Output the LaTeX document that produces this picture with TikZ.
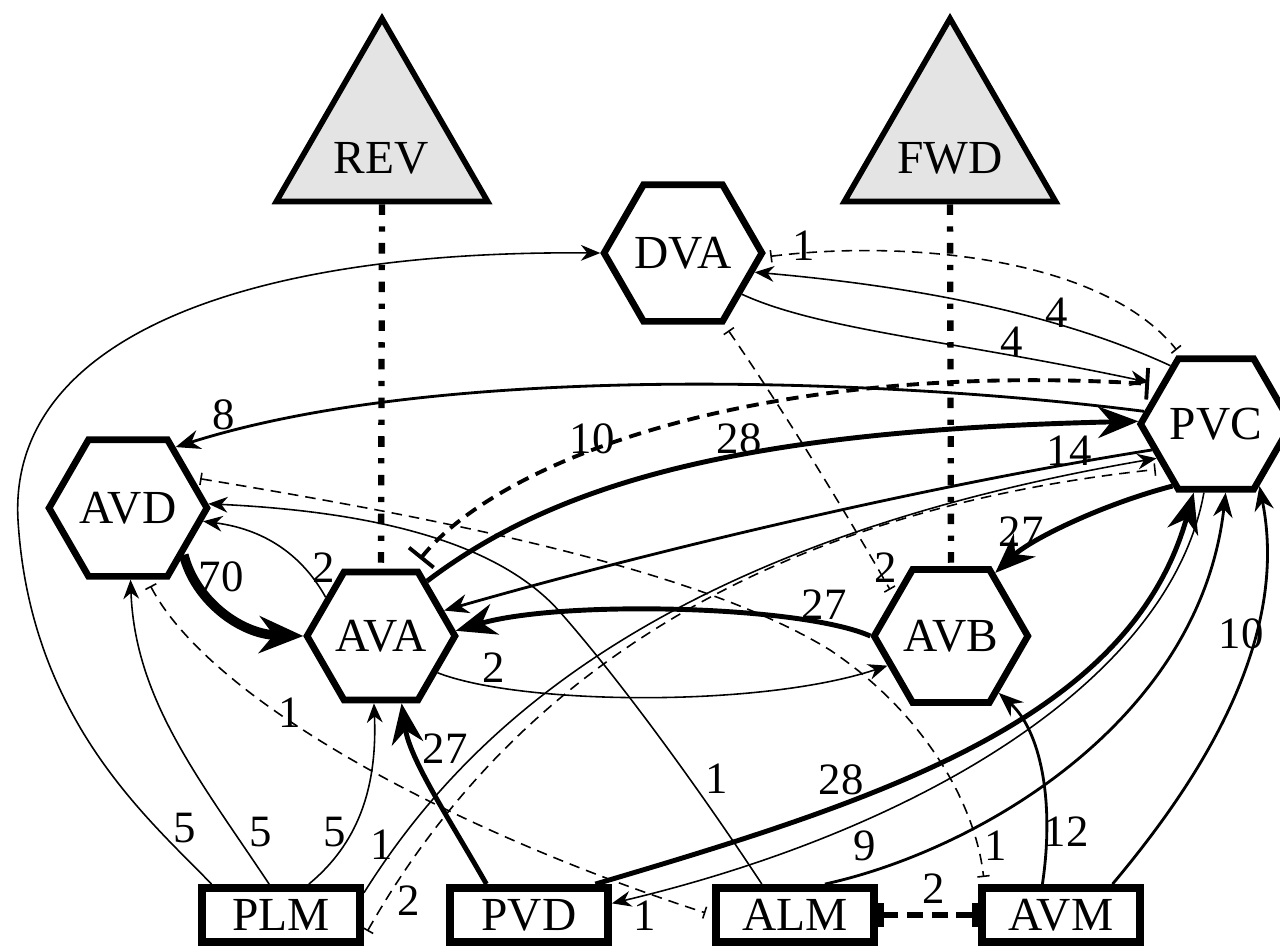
\documentclass[tikz,border=0pt]{standalone}
\usepackage{fontspec}
\setmainfont{Liberation Serif}
\usetikzlibrary{shapes.geometric,arrows.meta}
\definecolor{trigray}{RGB}{228,228,228}
\tikzset{
  hexnode/.style={regular polygon, regular polygon sides=6, minimum size=2.74cm, inner sep=0pt, draw, line width=3.8pt, font=\fontsize{27}{30}\selectfont},
  boxnode/.style={rectangle, draw, line width=4.5pt, minimum width=3.16cm, minimum height=1.08cm, inner sep=0pt, font=\fontsize{27}{30}\selectfont},
  trinode/.style={regular polygon, regular polygon sides=3, minimum size=4.88cm, inner sep=0pt, draw, line width=3.2pt, fill=trigray},
  tritext/.style={font=\fontsize{27}{30}\selectfont, inner sep=0pt},
  lab/.style={font=\fontsize{25.5}{28}\selectfont, inner sep=0pt},
  synA/.style={line width=0.9pt, -{Stealth[length=11pt,width=9pt]}},
  synB/.style={line width=1.6pt, -{Stealth[length=14pt,width=11pt]}},
  synC/.style={line width=2.8pt, -{Stealth[length=23pt,width=18pt]}},
  synD/.style={line width=5.5pt, -{Stealth[length=25pt,width=21pt]}},
  gapA/.style={line width=0.9pt, dash pattern=on 6pt off 4pt, {Bar[width=7pt]}-{Bar[width=7pt]}, shorten <=4pt, shorten >=4pt},
  gapC/.style={line width=2.2pt, dash pattern=on 7pt off 4.5pt, {Bar[width=18pt]}-{Bar[width=18pt]}, shorten <=7pt, shorten >=6pt},
  gapD/.style={line width=3.4pt, dash pattern=on 9pt off 5pt, {Bar[width=14pt,line width=3.5pt]}-{Bar[width=14pt,line width=3.5pt]}},
  cmdline/.style={line width=3.6pt, dash pattern=on 6pt off 6.5pt on 3pt off 6.5pt},
}
\begin{document}
\begin{tikzpicture}[x=0.02cm,y=-0.02cm]
\useasboundingbox (0,0) rectangle (1280,948);

% behaviour outputs
\node[trinode] (REV) at (382,140.5) {};
\node[tritext] (REVt) at (381,158) {REV};
\node[trinode] (FWD) at (950,140.5) {};
\node[tritext] (FWDt) at (950,158) {FWD};

% interneurons
\node[hexnode] (DVA) at (683,253) {DVA};
\node[hexnode] (PVC) at (1216,424) {PVC};
\node[hexnode] (AVD) at (128,508) {AVD};
\node[hexnode] (AVA) at (381,636) {AVA};
\node[hexnode] (AVB) at (951,636) {AVB};

% sensory neurons
\node[boxnode] (PLM) at (281,915) {PLM};
\node[boxnode] (PVD) at (529,915) {PVD};
\node[boxnode] (ALM) at (795,915) {ALM};
\node[boxnode] (AVM) at (1061,915) {AVM};

% command lines
\draw[cmdline] (REV.south) -- (AVA.north);
\draw[cmdline] (FWD.south) -- (AVB.north);

% chemical synapses
\draw[synA] (PLM.156) .. controls (150,820) and (30,720) .. (18,520) .. controls (8,340) and (240,250) .. (DVA.west);
\draw[synA] (PLM.111) .. controls (200,780) and (135,700) .. (AVD.-88);
\draw[synA] (PLM.48) .. controls (350,850) and (378,800) .. (AVA.-96);
\draw[synA] (PLM.15) .. controls (460,740) and (650,545) .. (PVC.-150);
\draw[synC] (PVD.144) .. controls (450,820) and (410,760) .. (AVA.-73);
\draw[synC] (PVD.25) .. controls (880,800) and (1130,720) .. (PVC.-108);
\draw[synA] (PVC.-100) .. controls (1170,680) and (920,830) .. (PVD.8);
\draw[synB] (ALM.46) .. controls (980,850) and (1200,720) .. (PVC.-82);
\draw[synB] (AVM.31) .. controls (1200,780) and (1290,640) .. (PVC.-55);
\draw[synB] (AVM.121) .. controls (1055,800) and (1040,730) .. (AVB.-50);
\draw[synC] (AVB.west) .. controls (800,605) and (560,600) .. (AVA.4);
\draw[synA] (AVA.-33) .. controls (520,705) and (760,708) .. (AVB.-155);
\draw[synD] (AVD.-40) .. controls (195,600) and (240,634) .. (AVA.west);
\draw[synA] (AVA.145) .. controls (305,560) and (270,530) .. (AVD.-10);
\draw[synA] (ALM.137) .. controls (700,790) and (620,680) .. (560,612) .. controls (500,544) and (380,512) .. (AVD.3);
\draw[synB] (PVC.170) .. controls (900,380) and (450,360) .. (AVD.52);
\draw[synC] (AVA.50) .. controls (560,480) and (750,430) .. (PVC.178);
\draw[synB] (PVC.-158) .. controls (900,490) and (620,560) .. (AVA.22);
\draw[synA, shorten >=6pt] (DVA.-35) .. controls (820,330) and (950,340) .. (PVC.145);
\draw[synA] (PVC.128) .. controls (1050,310) and (900,285) .. (DVA.-15);
\draw[synC] (PVC.-125) .. controls (1100,505) and (1030,540) .. (AVB.55);

% gap junctions
\draw[gapA] (PLM.-15) .. controls (470,750) and (680,520) .. (PVC.-140);
\draw[gapC] (AVA.65) .. controls (500,460) and (760,360) .. (PVC.145);
\draw[gapA] (DVA.-3) .. controls (900,240) and (1100,255) .. (PVC.117);
\draw[gapA] (DVA.-60) .. controls (790,420) and (850,520) .. (AVB.145);
\draw[gapA] (AVD.25) .. controls (450,520) and (700,570) .. (830,650) .. controls (920,710) and (975,800) .. (AVM.158);
\draw[gapA] (AVD.-75) .. controls (210,700) and (450,830) .. (ALM.west);
\draw[gapD] (ALM.east) -- (AVM.west);

% weights
\node[lab] (w1) at (804,246) {1};
\node[lab] (w2) at (1057,313) {4};
\node[lab] (w3) at (1012,342) {4};
\node[lab] (w4) at (224,415) {8};
\node[lab] (w5) at (592,439) {10};
\node[lab] (w6) at (739,439) {28};
\node[lab] (w7) at (1069,451) {14};
\node[lab] (w8) at (1021,532) {27};
\node[lab] (w9) at (221,577) {70};
\node[lab] (w10) at (324,568) {2};
\node[lab] (w11) at (886,568) {2};
\node[lab] (w12) at (824,605) {27};
\node[lab] (w13) at (494,668) {2};
\node[lab] (w14) at (1241,634) {10};
\node[lab] (w15) at (290,713) {1};
\node[lab] (w16) at (445,749) {27};
\node[lab] (w17) at (717,779) {1};
\node[lab] (w18) at (841,780) {28};
\node[lab] (w19) at (1066,832) {12};
\node[lab] (w20) at (865,846) {9};
\node[lab] (w21) at (996,846) {1};
\node[lab] (w22) at (185,828) {5};
\node[lab] (w23) at (261,832) {5};
\node[lab] (w24) at (335,832) {5};
\node[lab] (w25) at (382,845) {1};
\node[lab] (w26) at (409,901) {2};
\node[lab] (w27) at (645,916) {1};
\node[lab] (w28) at (934,889) {2};
\end{tikzpicture}
\end{document}
